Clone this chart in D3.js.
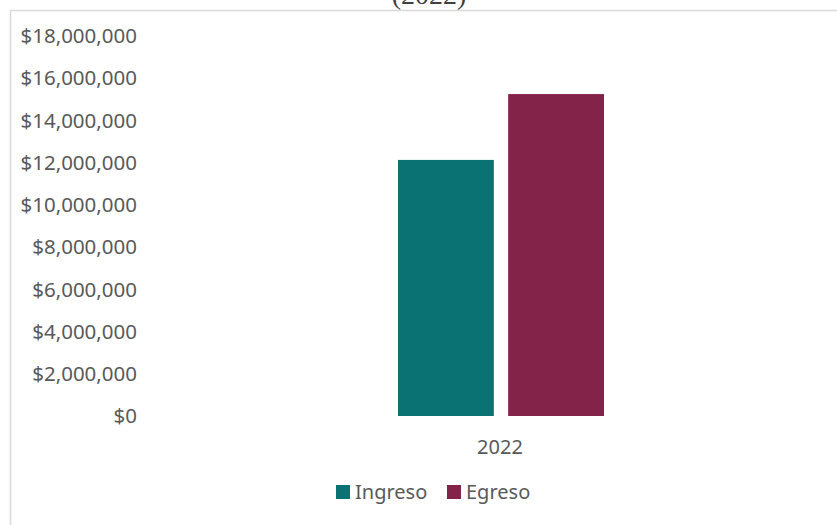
<!DOCTYPE html>
<html>
  <head>
    <style>
      body { margin: 0; background: #fff; }
      .axis text, .legend text, .cat text {
        font-family: "Noto Sans", sans-serif;
        fill: #595959;
      }
    </style>
  </head>
  <body>
    <svg id="chart" width="837" height="525"></svg>
    <script src="https://d3js.org/d3.v7.min.js"></script>
    <script type="text/javascript">
      const categories = ["2022"];
      const seriesNames = ["Ingreso", "Egreso"];
      const ingreso = [12130000];
      const egreso = [15250000];
      const yTicks = [0, 2000000, 4000000, 6000000, 8000000, 10000000, 12000000, 14000000, 16000000, 18000000];
      const colors = ["#0b7273", "#842349"];

      (function() {
        const svg = d3.select("#chart");

        // frame of the chart area (top and left lines only visible)
        svg.append("rect")
          .attr("x", 10.5).attr("y", 10.5)
          .attr("width", 900).attr("height", 600)
          .attr("fill", "none")
          .attr("stroke", "#d9d9d9")
          .attr("stroke-width", 1.5);

        // title, mostly cut off at the top
        svg.append("text")
          .attr("x", 429).attr("y", 4)
          .attr("text-anchor", "middle")
          .attr("font-family", "Liberation Serif, serif")
          .attr("font-size", 28)
          .attr("fill", "#404040")
          .text("(2022)");

        const y = d3.scaleLinear().domain([0, 18000000]).range([416, 36]);
        const x1 = d3.scaleBand().domain(seriesNames).range([398, 604]).paddingInner(0.13);

        const fmt = v => "$" + d3.format(",")(v);

        const axis = svg.append("g").attr("class", "axis");
        axis.selectAll("text")
          .data(yTicks)
          .enter().append("text")
          .attr("x", 137)
          .attr("y", d => y(d))
          .attr("dy", "0.35em")
          .attr("text-anchor", "end")
          .attr("font-size", 20.5)
          .text(fmt);

        const rows = categories.map((c, i) => ({ cat: c, values: [ingreso[i], egreso[i]] }));

        const g = svg.append("g").selectAll("g")
          .data(rows)
          .enter().append("g");

        g.selectAll("rect")
          .data(d => d.values.map((v, j) => ({ name: seriesNames[j], value: v, color: colors[j] })))
          .enter().append("rect")
          .attr("x", d => x1(d.name))
          .attr("y", d => y(d.value))
          .attr("width", x1.bandwidth())
          .attr("height", d => y(0) - y(d.value))
          .attr("fill", d => d.color);

        svg.append("g").attr("class", "cat")
          .selectAll("text")
          .data(categories)
          .enter().append("text")
          .attr("x", 500)
          .attr("y", 447)
          .attr("dy", "0.35em")
          .attr("text-anchor", "middle")
          .attr("font-size", 20)
          .text(d => d);

        const legend = svg.append("g").attr("class", "legend");
        const legendX = [336, 447];
        const item = legend.selectAll("g")
          .data(seriesNames)
          .enter().append("g")
          .attr("transform", (d, i) => "translate(" + legendX[i] + ",492)");
        item.append("rect")
          .attr("x", 0).attr("y", -7)
          .attr("width", 14).attr("height", 14)
          .attr("fill", (d, i) => colors[i]);
        item.append("text")
          .attr("x", 19).attr("y", 0)
          .attr("dy", "0.35em")
          .attr("font-size", 20)
          .text(d => d);
      })()
    </script>
  </body>
</html>
